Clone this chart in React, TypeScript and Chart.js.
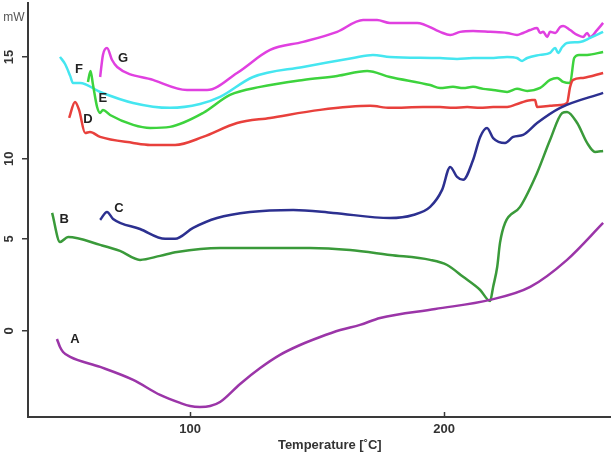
import React, { useEffect, useRef } from "react";
import { Chart, registerables } from "chart.js";

Chart.register(...registerables);

// Temperature (°C) / heat flow (mW, stacked offsets)
const aX = [47.6, 48.8, 50.0, 52.8, 64.6, 77.6, 88.2, 96.1, 100, 103.9, 107.9, 111.8, 119.7, 127.6, 135.4, 143.3, 151.2, 159.1, 166.9, 174.8, 196.5, 218.1, 233.9, 248.4, 262.6];
const aY = [-0.44, -0.88, -1.15, -1.42, -1.97, -2.68, -3.5, -3.94, -4.11, -4.16, -4.11, -3.89, -2.9, -2.03, -1.31, -0.77, -0.33, 0.05, 0.33, 0.71, 1.2, 1.7, 2.41, 3.89, 5.91];

const bX = [45.7, 48.8, 52.0, 64.6, 72.4, 80.3, 88.2, 94.9, 111.8, 147.2, 163.0, 178.7, 194.5, 201.2, 207.5, 214.2, 218.1, 219.3, 220.9, 222.0, 224.0, 229.9, 236.6, 241.7, 246.5, 248.4, 252.4, 256.3, 259.4, 262.6];
const bY = [6.46, 4.87, 5.14, 4.71, 4.38, 3.89, 4.11, 4.32, 4.54, 4.54, 4.43, 4.16, 3.89, 3.61, 2.96, 2.24, 1.64, 2.41, 3.5, 4.82, 5.91, 6.79, 8.65, 10.45, 11.93, 11.99, 11.38, 10.29, 9.8, 9.85];

const cX = [64.6, 67.3, 69.7, 80.3, 90.2, 94.1, 101.2, 110.6, 123.6, 140.6, 156.3, 178.7, 187.8, 194.5, 199.2, 202.4, 205.1, 207.5, 211.4, 214.2, 216.9, 219.3, 224.0, 227.2, 231.1, 236.6, 245.7, 262.6];
const cY = [6.08, 6.51, 6.13, 5.58, 5.04, 5.04, 5.64, 6.18, 6.51, 6.62, 6.46, 6.18, 6.35, 6.79, 7.72, 8.98, 8.43, 8.27, 9.36, 10.62, 11.11, 10.56, 10.29, 10.62, 10.73, 11.38, 12.21, 13.03];

const dX = [52.4, 54.7, 56.3, 58.7, 60.6, 64.6, 77.6, 84.3, 94.1, 105.1, 118.5, 131.5, 151.2, 170.9, 178.7, 191.7, 198.4, 203.5, 209.1, 214.2, 219.3, 224.8, 229.9, 234.6, 235.8, 236.6, 241.7, 245.7, 248.4, 249.6, 250.8, 254.7, 262.6];
const dY = [11.66, 12.53, 12.1, 10.84, 10.89, 10.62, 10.29, 10.18, 10.18, 10.62, 11.38, 11.66, 12.1, 12.32, 12.21, 12.26, 12.26, 12.21, 12.26, 12.21, 12.26, 12.26, 12.48, 12.64, 12.64, 12.26, 12.32, 12.37, 12.48, 13.36, 13.74, 13.85, 14.12];

const eX = [59.8, 60.8, 61.8, 63.4, 64.6, 65.7, 68.5, 77.6, 84.3, 92.1, 105.1, 115.7, 127.6, 144.5, 157.9, 169.7, 178.7, 194.5, 198.4, 203.5, 207.5, 211.4, 215.4, 219.3, 224.8, 228.7, 232.7, 237.8, 241.7, 244.5, 246.9, 249.6, 251.2, 253.1, 256.3, 262.6];
const eY = [13.63, 14.23, 13.46, 12.26, 11.93, 12.1, 11.82, 11.28, 11.11, 11.17, 11.93, 12.92, 13.36, 13.74, 13.96, 14.23, 13.9, 13.46, 13.3, 13.36, 13.3, 13.36, 13.25, 13.19, 13.08, 13.25, 13.14, 13.3, 13.74, 13.85, 13.63, 13.57, 14.94, 15.11, 15.11, 15.27];

const fX = [48.8, 50.8, 52.8, 53.9, 56.7, 64.6, 77.6, 92.1, 103.9, 111.8, 124.8, 144.5, 164.2, 172.0, 178.7, 198.4, 205.1, 211.4, 218.1, 224.8, 228.7, 230.7, 232.7, 237.8, 241.7, 243.7, 244.9, 246.5, 248.4, 253.5, 257.5, 262.6];
const fY = [15.0, 14.61, 13.96, 13.57, 13.57, 13.08, 12.48, 12.21, 12.42, 12.81, 13.9, 14.45, 14.94, 15.11, 15.0, 14.94, 14.89, 14.94, 14.94, 15.0, 14.94, 14.78, 14.94, 15.11, 15.22, 15.49, 15.22, 15.54, 15.76, 15.82, 16.04, 16.37];

const gX = [64.6, 65.7, 67.3, 69.3, 71.3, 85.4, 98.8, 106.7, 118.5, 131.5, 144.5, 157.9, 168.1, 173.6, 178.7, 189.4, 198.4, 202.4, 206.3, 211.4, 218.1, 224.8, 228.7, 231.1, 233.9, 236.6, 237.8, 239.0, 240.6, 241.7, 243.7, 245.7, 246.9, 249.6, 252.4, 254.7, 256.3, 257.5, 260.2, 262.6];
const gY = [13.9, 15.11, 15.49, 14.83, 14.45, 13.74, 13.19, 13.19, 14.12, 15.38, 15.82, 16.37, 17.02, 17.02, 16.86, 16.86, 16.37, 16.2, 16.37, 16.42, 16.37, 16.31, 16.2, 16.31, 16.47, 16.58, 16.31, 16.37, 16.09, 16.37, 16.31, 16.64, 16.69, 16.47, 16.2, 16.09, 16.31, 16.09, 16.47, 16.86];

const seriesNames = ["A", "B", "C", "D", "E", "F", "G"];
const seriesColors = ["#9b35a8", "#3a9a3a", "#2c3090", "#e8403c", "#3dd33d", "#45e6f0", "#e040e0"];
const labelX = [54.7, 50.4, 72.0, 59.8, 65.7, 56.3, 73.6];
const labelY = [-0.44, 6.08, 6.73, 11.6, 12.7, 14.34, 14.94];

const xTickValues = [100, 200];
const yTickValues = [0, 5.04, 9.42, 15];
const yTickLabels = ["0", "5", "10", "15"];
const xTitle = "Temperature [˚C]";
const yUnit = "mW";

const allX = [aX, bX, cX, dX, eX, fX, gX];
const allY = [aY, bY, cY, dY, eY, fY, gY];

const AXIS = "#3a3a3a";
const FONT = "'Liberation Sans', Arial, sans-serif";

const textPlugin = {
  id: "texts",
  afterDraw(chart: any) {
    const ctx = chart.ctx;
    const xs = chart.scales.x;
    const ys = chart.scales.y;
    const bottom = chart.chartArea.bottom;
    ctx.save();
    // inward x tick marks
    ctx.strokeStyle = AXIS;
    ctx.lineWidth = 1.5;
    xTickValues.forEach((v) => {
      const px = Math.round(xs.getPixelForValue(v)) + 0.5;
      ctx.beginPath();
      ctx.moveTo(px, bottom);
      ctx.lineTo(px, bottom - 5);
      ctx.stroke();
    });
    ctx.fillStyle = "#333";
    ctx.textAlign = "center";
    ctx.textBaseline = "middle";
    ctx.font = `bold 13px ${FONT}`;
    xTickValues.forEach((v) => {
      ctx.fillText(String(v), xs.getPixelForValue(v), bottom + 12);
    });
    ctx.fillText(xTitle, xs.getPixelForValue(155), bottom + 28);
    // rotated y labels
    yTickValues.forEach((v, i) => {
      ctx.save();
      ctx.translate(9, ys.getPixelForValue(v));
      ctx.rotate(-Math.PI / 2);
      ctx.fillText(yTickLabels[i], 0, 0);
      ctx.restore();
    });
    ctx.font = `12px ${FONT}`;
    ctx.fillStyle = "#555";
    ctx.fillText(yUnit, 14, 18);
    // curve labels
    ctx.font = `bold 13px ${FONT}`;
    ctx.fillStyle = "#222";
    seriesNames.forEach((n, i) => {
      ctx.fillText(n, xs.getPixelForValue(labelX[i]), ys.getPixelForValue(labelY[i]));
    });
    ctx.restore();
  },
};

export default function App() {
  const ref = useRef<HTMLCanvasElement>(null);
  useEffect(() => {
    if (!ref.current) return;
    const datasets = seriesNames.map((n, i) => ({
      label: n,
      data: allX[i].map((x, j) => ({ x, y: allY[i][j] })),
      borderColor: seriesColors[i],
      borderWidth: 2.5,
      pointRadius: 0,
      fill: false,
      cubicInterpolationMode: "monotone" as const,
    }));
    const chart = new Chart(ref.current, {
      type: "line",
      data: { datasets },
      plugins: [textPlugin],
      options: {
        animation: false,
        responsive: true,
        maintainAspectRatio: false,
        layout: { padding: { top: 3, right: 0, left: 0, bottom: 0 } },
        plugins: { legend: { display: false }, tooltip: { enabled: false } },
        scales: {
          x: {
            type: "linear",
            min: 36.2,
            max: 265.7,
            grid: { display: false },
            border: { display: true, color: AXIS, width: 2 },
            ticks: { display: false },
            afterFit: (s: any) => {
              s.height = 38;
            },
          },
          y: {
            type: "linear",
            min: -4.71,
            max: 17.95,
            grid: { drawOnChartArea: false, drawTicks: true, tickLength: 6, color: AXIS, lineWidth: 1.5 },
            border: { display: true, color: AXIS, width: 2 },
            ticks: { display: false },
            afterBuildTicks: (s: any) => {
              s.ticks = yTickValues.map((v) => ({ value: v }));
            },
            afterFit: (s: any) => {
              s.width = 28;
            },
          },
        },
      },
    });
    return () => chart.destroy();
  }, []);
  return (
    <div style={{ position: "absolute", left: 0, top: 0, width: 611, height: 455, background: "#fff" }}>
      <canvas ref={ref} />
    </div>
  );
}
